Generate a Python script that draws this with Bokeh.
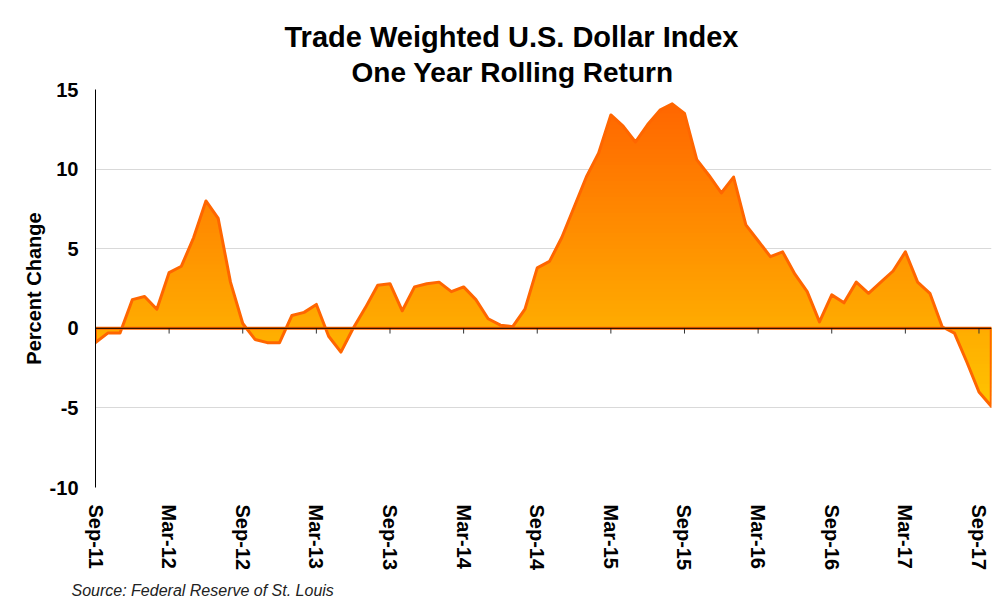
import numpy as np
from bokeh.plotting import figure
from bokeh.models import Range1d, FixedTicker, Title, Span
from bokeh.embed import file_html
from bokeh.resources import INLINE

# ---------------- data ----------------
title_line1 = "Trade Weighted U.S. Dollar Index"
title_line2 = "One Year Rolling Return"
source_text = "Source:  Federal Reserve of St. Louis"
y_label = "Percent Change"

# monthly one-year rolling return, Sep-11 .. Oct-17
returns = [-0.9, -0.3, -0.3, 1.8, 2.0, 1.2, 3.5, 3.9, 5.7, 8.0,
           6.9, 2.9, 0.3, -0.7, -0.9, -0.9, 0.8, 1.0, 1.5, -0.5,
           -1.5, 0.0, 1.3, 2.7, 2.8, 1.1, 2.6, 2.8, 2.9, 2.3,
           2.6, 1.8, 0.6, 0.2, 0.1, 1.2, 3.8, 4.2, 5.7, 7.6,
           9.5, 11.0, 13.4, 12.7, 11.7, 12.8, 13.7, 14.1, 13.5, 10.6,
           9.6, 8.5, 9.5, 6.5, 5.5, 4.5, 4.8, 3.4, 2.3, 0.4,
           2.1, 1.6, 2.9, 2.2, 2.9, 3.6, 4.8, 2.9, 2.2, 0.1,
           -0.3, -2.1, -4.0, -4.9]

tick_labels = ["Sep-11", "Mar-12", "Sep-12", "Mar-13", "Sep-13", "Mar-14", "Sep-14",
               "Mar-15", "Sep-15", "Mar-16", "Sep-16", "Mar-17", "Sep-17"]
months_per_tick = 6
y_ticks = [-10, -5, 0, 5, 10, 15]
y_tick_labels = ["-10", "-5", "0", "5", "10", "15"]

# ---------------- styling ----------------
FONT = "Liberation Sans"
LINE_COLOR = "#FF6600"
TOP_RGB = (255, 102, 0)     # colour at the highest value
BOT_RGB = (255, 196, 0)     # colour at the lowest value
GRID = "#D9D9D9"

xs = np.arange(len(returns), dtype=float)
ys = np.array(returns, dtype=float)
x_ticks = [i * months_per_tick for i in range(len(tick_labels))]


def refine(x, y, levels):
    """insert the exact crossing points of the polyline with each level"""
    ox, oy = [x[0]], [y[0]]
    for i in range(len(x) - 1):
        x0, y0, x1, y1 = x[i], y[i], x[i + 1], y[i + 1]
        cr = []
        for L in levels:
            if (y0 - L) * (y1 - L) < 0:
                t = (L - y0) / (y1 - y0)
                cr.append((t, L))
        cr.sort()
        for t, L in cr:
            ox.append(x0 + t * (x1 - x0))
            oy.append(L)
        ox.append(x1)
        oy.append(y1)
    return np.array(ox), np.array(oy)


def grad_color(v, vmax, vmin):
    t = (vmax - v) / (vmax - vmin)
    t = min(max(t, 0.0), 1.0)
    r = round(TOP_RGB[0] + t * (BOT_RGB[0] - TOP_RGB[0]))
    g = round(TOP_RGB[1] + t * (BOT_RGB[1] - TOP_RGB[1]))
    b = round(TOP_RGB[2] + t * (BOT_RGB[2] - TOP_RGB[2]))
    return "#%02x%02x%02x" % (r, g, b)


p = figure(width=992, height=605,
           x_range=Range1d(0, 73.02), y_range=Range1d(-10, 15),
           output_backend="svg", toolbar_location=None,
           title=title_line1,
           min_border_left=95, min_border_right=1,
           min_border_top=89, min_border_bottom=118)
p.outline_line_color = None
p.background_fill_color = "white"
p.border_fill_color = "white"

# titles
p.title.text_font = FONT
p.title.text_font_size = "29px"
p.title.text_font_style = "bold"
p.title.text_color = "black"
p.title.align = "left"
p.title.offset = 189
p.title.standoff = 0
p.add_layout(Title(text=title_line2, text_font=FONT, text_font_size="28px",
                   text_font_style="bold", text_color="black", align="left",
                   offset=256, standoff=4), "above")

# source note
p.add_layout(Title(text=source_text, text_font=FONT, text_font_size="16px",
                   text_font_style="italic", text_color="#222222", align="left",
                   offset=-24, standoff=12), "below")

# axes
p.yaxis.ticker = FixedTicker(ticks=y_ticks)
p.yaxis.major_label_overrides = {t: l for t, l in zip(y_ticks, y_tick_labels)}
p.yaxis.axis_line_color = "black"
p.yaxis.major_tick_line_color = None
p.yaxis.major_tick_out = 0
p.yaxis.major_tick_in = 0
p.yaxis.minor_tick_line_color = None
p.yaxis.major_label_standoff = 17
p.yaxis.major_label_text_font = FONT
p.yaxis.major_label_text_font_size = "20px"
p.yaxis.major_label_text_font_style = "bold"
p.yaxis.major_label_text_color = "black"
p.yaxis.axis_label = y_label
p.yaxis.axis_label_text_font = FONT
p.yaxis.axis_label_text_font_size = "20px"
p.yaxis.axis_label_text_font_style = "bold"
p.yaxis.axis_label_text_color = "black"
p.yaxis.axis_label_standoff = 2

p.xaxis.ticker = FixedTicker(ticks=x_ticks)
p.xaxis.major_label_overrides = {t: l for t, l in zip(x_ticks, tick_labels)}
p.xaxis.axis_line_color = None
p.xaxis.major_tick_line_color = None
p.xaxis.major_tick_out = 0
p.xaxis.major_tick_in = 0
p.xaxis.minor_tick_line_color = None
p.xaxis.major_label_orientation = "vertical"
p.xaxis.major_label_standoff = 17
p.xaxis.major_label_text_font = FONT
p.xaxis.major_label_text_font_size = "20px"
p.xaxis.major_label_text_font_style = "bold"
p.xaxis.major_label_text_color = "black"

p.xgrid.visible = False
p.ygrid.grid_line_color = GRID
p.ygrid.grid_line_width = 1

# gradient-filled area (painted in bands)
vmax, vmin = ys.max(), ys.min()
step = 0.25
pos_edges = np.arange(step, vmax + step, step)
neg_edges = -np.arange(step, -vmin + step, step)
levels = np.concatenate([[0.0], pos_edges, neg_edges])
rx, ry = refine(xs, ys, levels)

for b in pos_edges[::-1]:
    c = grad_color(b - step / 2, vmax, vmin)
    p.varea(x=rx, y1=np.zeros_like(ry), y2=np.clip(ry, 0, b), fill_color=c)
for a in neg_edges[::-1]:
    c = grad_color(a + step / 2, vmax, vmin)
    p.varea(x=rx, y1=np.clip(ry, a, 0), y2=np.zeros_like(ry), fill_color=c)

# outline of the area (series border)
px = list(xs) + [xs[-1], xs[0]]
py = list(ys) + [0.0, 0.0]
p.patch(x=px, y=py, fill_alpha=0, line_color=LINE_COLOR, line_width=3,
        line_join="round")

# category axis crossing at zero with its tick marks
p.add_layout(Span(location=0, dimension="width", line_color="black", line_width=1))
p.segment(x0=x_ticks, y0=[0] * len(x_ticks), x1=x_ticks, y1=[-0.33] * len(x_ticks),
          line_color="#333333", line_width=1)

open("out.html", "w").write(file_html(p, INLINE))
